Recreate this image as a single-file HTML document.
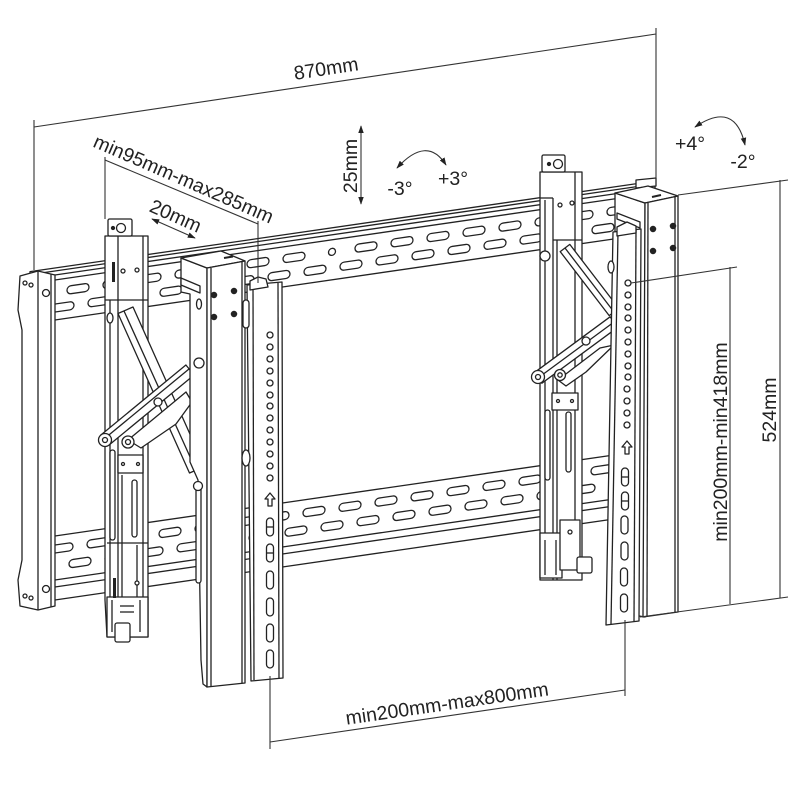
<!DOCTYPE html>
<html><head><meta charset="utf-8"><style>
html,body{margin:0;padding:0;background:#fff;}
svg{display:block;}
text{font-family:"Liberation Sans",sans-serif;fill:#222;}
</style></head><body>
<svg width="800" height="800" viewBox="0 0 800 800" xmlns="http://www.w3.org/2000/svg" xmlns:xlink="http://www.w3.org/1999/xlink">
<defs>
<marker id="ah" viewBox="0 0 10 10" refX="9" refY="5" markerWidth="8" markerHeight="8" orient="auto-start-reverse" markerUnits="userSpaceOnUse"><path d="M0,1.5 L10,5 L0,8.5 z" fill="#222"/></marker>
<circle id="h" r="3" fill="#fff" stroke="#222" stroke-width="1.3"/>
</defs>
<rect width="800" height="800" fill="#fff"/>

<!-- RAILS -->
<g fill="#fff" stroke="#222" stroke-width="1.3" stroke-linejoin="round">
<polygon points="30,271.6 655,181 655,233 30,323.6"/>
<line x1="30" y1="274.6" x2="655" y2="184"/>
<line x1="30" y1="278.6" x2="655" y2="188"/>
<line x1="30" y1="283.6" x2="655" y2="193"/>
<polygon points="30,539.6 620,454.1 620,518.1 30,603.6"/>
<line x1="30" y1="583.6" x2="620" y2="498.1"/>
<line x1="30" y1="590.6" x2="620" y2="505.1"/>
</g>

<!-- SLOTS (skewed frame: y' = y + 0.145x) -->
<g fill="#fff" stroke="#222" stroke-width="1.3" transform="matrix(1,-0.145,0,1,0,0)">
<g transform="translate(0,296)">
<rect x="67" width="22" height="8" rx="4"/><rect x="103" width="22" height="8" rx="4"/><rect x="139" width="22" height="8" rx="4"/><rect x="175" width="22" height="8" rx="4"/><rect x="211" width="22" height="8" rx="4"/><rect x="247" width="22" height="8" rx="4"/><rect x="283" width="22" height="8" rx="4"/><rect x="355" width="22" height="8" rx="4"/><rect x="391" width="22" height="8" rx="4"/><rect x="427" width="22" height="8" rx="4"/><rect x="463" width="22" height="8" rx="4"/><rect x="499" width="22" height="8" rx="4"/><rect x="535" width="22" height="8" rx="4"/><rect x="571" width="22" height="8" rx="4"/><rect x="607" width="22" height="8" rx="4"/>
<circle cx="332" cy="4" r="3.5"/>
</g>
<g transform="translate(0,312)">
<rect x="52" width="22" height="8" rx="4"/><rect x="88" width="22" height="8" rx="4"/><rect x="124" width="22" height="8" rx="4"/><rect x="160" width="22" height="8" rx="4"/><rect x="196" width="22" height="8" rx="4"/><rect x="232" width="22" height="8" rx="4"/><rect x="268" width="22" height="8" rx="4"/><rect x="304" width="22" height="8" rx="4"/><rect x="340" width="22" height="8" rx="4"/><rect x="376" width="22" height="8" rx="4"/><rect x="412" width="22" height="8" rx="4"/><rect x="448" width="22" height="8" rx="4"/><rect x="484" width="22" height="8" rx="4"/><rect x="520" width="22" height="8" rx="4"/><rect x="556" width="22" height="8" rx="4"/><rect x="592" width="22" height="8" rx="4"/>
</g>
<g transform="translate(0,553)">
<rect x="51" width="22" height="8" rx="4"/><rect x="87" width="22" height="8" rx="4"/><rect x="123" width="22" height="8" rx="4"/><rect x="159" width="22" height="8" rx="4"/><rect x="195" width="22" height="8" rx="4"/><rect x="231" width="22" height="8" rx="4"/><rect x="267" width="22" height="8" rx="4"/><rect x="303" width="22" height="8" rx="4"/><rect x="339" width="22" height="8" rx="4"/><rect x="375" width="22" height="8" rx="4"/><rect x="411" width="22" height="8" rx="4"/><rect x="447" width="22" height="8" rx="4"/><rect x="483" width="22" height="8" rx="4"/><rect x="519" width="22" height="8" rx="4"/><rect x="555" width="22" height="8" rx="4"/><rect x="591" width="22" height="8" rx="4"/>
</g>
<g transform="translate(0,570)">
<rect x="69" width="22" height="8" rx="4"/><rect x="105" width="22" height="8" rx="4"/><rect x="141" width="22" height="8" rx="4"/><rect x="177" width="22" height="8" rx="4"/><rect x="213" width="22" height="8" rx="4"/><rect x="249" width="22" height="8" rx="4"/><rect x="285" width="22" height="8" rx="4"/><rect x="321" width="22" height="8" rx="4"/><rect x="357" width="22" height="8" rx="4"/><rect x="393" width="22" height="8" rx="4"/><rect x="429" width="22" height="8" rx="4"/><rect x="465" width="22" height="8" rx="4"/><rect x="501" width="22" height="8" rx="4"/><rect x="537" width="22" height="8" rx="4"/><rect x="573" width="22" height="8" rx="4"/>
</g>
</g>

<!-- LEFT END PLATE -->
<g fill="#fff" stroke="#222" stroke-width="1.3" stroke-linejoin="round">
<polygon points="20,276 38,271 55,275 55,606 38,610 20,606 18,580 22,560 22,330 18,310"/>
<line x1="38" y1="271" x2="38" y2="610"/>
<line x1="51" y1="274" x2="51" y2="607"/>
<circle cx="46" cy="293" r="3.5"/>
<circle cx="46" cy="589" r="3.5"/>
<circle cx="25" cy="283" r="2"/>
<circle cx="31" cy="285" r="2"/>
<circle cx="25" cy="596" r="2"/>
<circle cx="31" cy="598" r="2"/>
</g>

<!-- LEFT WALL BRACKET -->
<g fill="#fff" stroke="#222" stroke-width="1.3" stroke-linejoin="round">
<polygon points="105,236 148,236 148,637 107,637 105,600"/>
<rect x="108" y="219" width="24" height="17" rx="1.5"/>
<circle cx="121" cy="228" r="4.5"/>
<circle cx="113" cy="228" r="1.5" fill="#222"/>
<line x1="110" y1="300" x2="110" y2="597"/>
<line x1="118" y1="236" x2="118" y2="600"/>
<line x1="122" y1="475" x2="122" y2="600"/>
<line x1="143" y1="236" x2="143" y2="600"/>
<line x1="105" y1="300" x2="148" y2="300"/>
<circle cx="123" cy="271" r="2"/>
<circle cx="137" cy="270" r="2"/>
<rect x="112" y="262" width="3" height="20" fill="#222" stroke="none"/>
<ellipse cx="110" cy="318" rx="3" ry="5"/>
<rect x="110" y="450" width="5" height="90" rx="2.5"/>
<rect x="132" y="480" width="5" height="57" rx="2.5"/>
<rect x="118" y="455" width="25" height="18"/>
<circle cx="123" cy="464" r="1.5"/>
<circle cx="138" cy="464" r="1.5"/>
<line x1="107" y1="543" x2="148" y2="543"/>
<line x1="137" y1="545" x2="137" y2="597"/>
<rect x="107" y="597" width="41" height="40"/>
<circle cx="137" cy="583" r="2"/>
<rect x="113" y="578" width="3" height="20" fill="#222" stroke="none"/>
<line x1="112" y1="600" x2="112" y2="632"/>
<line x1="140" y1="600" x2="140" y2="632"/>
<line x1="120" y1="606" x2="134" y2="606"/>
<line x1="120" y1="612" x2="134" y2="612"/>
<rect x="115" y="623" width="15" height="19" rx="2"/>
</g>

<!-- LEFT ARMS -->
<g fill="#fff" stroke="#222" stroke-width="1.3" stroke-linejoin="round">
<polygon points="118,313.5 133,307 204.5,466.5 189.5,473"/>
<line x1="124" y1="311" x2="196" y2="470"/>
<polygon points="128,440 186,392 192,402 176,424 141,448"/>
<polygon points="100.9,435 185.9,365 194.1,375 109.1,445"/>
<line x1="104" y1="439" x2="189" y2="369"/>
<circle cx="105" cy="440" r="6.5"/>
<circle cx="105" cy="440" r="2.5"/>
<circle cx="128" cy="442" r="6"/>
<circle cx="128" cy="442" r="2.5"/>
<circle cx="158" cy="402" r="4"/>
</g>

<!-- LEFT BOX BRACKET -->
<g fill="#fff" stroke="#222" stroke-width="1.3" stroke-linejoin="round">
<polygon points="181,258 207,268 207,687 203,684 201,660 198,480 190,462 190,294 181,292"/>
<polygon points="181,258 221,251 245,261 207,268"/>
<polygon points="207,268 245,261 245,683 207,687"/>
<line x1="211" y1="268" x2="211" y2="686"/>
<line x1="242" y1="262" x2="242" y2="683"/>
<line x1="224" y1="258" x2="233" y2="256.5" stroke-width="2"/>
<polygon points="181,278 200,286 200,293 181,285"/>
<ellipse cx="199" cy="304" rx="2.5" ry="5"/>
<circle cx="199" cy="363" r="5"/>
<rect x="196" y="483" width="5" height="100" rx="2.5"/>
<circle cx="198" cy="486" r="4.5"/>
<circle cx="214" cy="295" r="2.6" fill="#222"/>
<circle cx="234" cy="291" r="2.6" fill="#222"/>
<circle cx="214" cy="317" r="2.6" fill="#222"/>
<circle cx="234" cy="314" r="2.6" fill="#222"/>
</g>

<!-- LEFT STRIP -->
<g fill="#fff" stroke="#222" stroke-width="1.3" stroke-linejoin="round">
<polygon points="247,285 282,282 283,678 251,681"/>
<line x1="253" y1="285" x2="254" y2="680"/>
<line x1="278" y1="283" x2="279" y2="678"/>
<path d="M250,290 L250,281 L258,277 L266,279 L268,287 Z"/>
<rect x="243" y="300" width="6" height="28" rx="3"/>
<ellipse cx="246" cy="458" rx="4" ry="8"/>
<path d="M270,493 L265,499 L268,499 L268,506 L272,506 L272,499 L275,499 Z"/>
<rect x="266.5" y="518" width="7" height="18" rx="3.5"/>
<rect x="266.5" y="544" width="7" height="18" rx="3.5"/>
<rect x="266.5" y="571" width="7" height="18" rx="3.5"/>
<rect x="266.5" y="598" width="7" height="18" rx="3.5"/>
<rect x="266.5" y="624" width="7" height="18" rx="3.5"/>
<rect x="266.5" y="650" width="7" height="18" rx="3.5"/>
<line x1="267" y1="527" x2="273" y2="527"/>
<line x1="267" y1="553" x2="273" y2="553"/>
</g>
<g transform="translate(270,0)">
<use xlink:href="#h" y="335"/><use xlink:href="#h" y="347"/><use xlink:href="#h" y="359"/><use xlink:href="#h" y="371"/><use xlink:href="#h" y="383"/><use xlink:href="#h" y="395"/><use xlink:href="#h" y="406"/><use xlink:href="#h" y="418"/><use xlink:href="#h" y="430"/><use xlink:href="#h" y="442"/><use xlink:href="#h" y="454"/><use xlink:href="#h" y="466"/><use xlink:href="#h" y="478"/>
</g>

<!-- RIGHT WALL BRACKET -->
<g fill="#fff" stroke="#222" stroke-width="1.3" stroke-linejoin="round">
<polygon points="540,172 582,172 582,580 540,580"/>
<rect x="542" y="155" width="23" height="17" rx="1.5"/>
<circle cx="558" cy="164" r="4.5"/>
<circle cx="549" cy="164" r="1.5" fill="#222"/>
<line x1="545" y1="200" x2="545" y2="578"/>
<line x1="553" y1="198" x2="553" y2="580"/>
<line x1="557" y1="240" x2="557" y2="580"/>
<line x1="575" y1="172" x2="575" y2="540"/>
<line x1="540" y1="198" x2="553" y2="198"/>
<line x1="553" y1="240" x2="582" y2="240"/>
<circle cx="560" cy="205" r="2"/>
<circle cx="572" cy="203" r="2"/>
<circle cx="545" cy="256" r="5"/>
<rect x="545" y="410" width="5" height="70" rx="2.5"/>
<rect x="566" y="412" width="5" height="60" rx="2.5"/>
<rect x="552" y="393" width="26" height="17"/>
<circle cx="558" cy="401" r="1.5"/>
<circle cx="572" cy="401" r="1.5"/>
<rect x="540" y="533" width="22" height="45"/>
<line x1="545" y1="540" x2="545" y2="575"/>
<line x1="556" y1="540" x2="556" y2="575"/>
<rect x="560" y="520" width="20" height="50"/>
<circle cx="570" cy="532" r="2"/>
<rect x="577" y="557" width="15" height="16" rx="2"/>
</g>

<!-- RIGHT ARMS -->
<g fill="#fff" stroke="#222" stroke-width="1.3" stroke-linejoin="round">
<polygon points="560.2,251.6 569.8,244.4 618.8,308.4 609.2,315.6"/>
<line x1="565" y1="248" x2="614" y2="312"/>
<polygon points="558,380 600,348 614,345 586,372 566,386"/>
<polygon points="534.1,372.8 610.1,316.8 617.9,327.2 541.9,383.2"/>
<line x1="538" y1="378" x2="614" y2="322"/>
<circle cx="538" cy="377" r="6.5"/>
<circle cx="538" cy="377" r="2.5"/>
<circle cx="560" cy="375" r="5.5"/>
<circle cx="560" cy="375" r="2.2"/>
<circle cx="586" cy="341" r="4"/>
</g>

<!-- RIGHT BOX BRACKET -->
<g fill="#fff" stroke="#222" stroke-width="1.3" stroke-linejoin="round">
<polygon points="636,180 656,178 656,186 636,188"/>
<polygon points="615,193 645,203 645,617 615,612"/>
<polygon points="615,193 648,186 678,196 645,203"/>
<polygon points="645,203 678,196 678,612 643,617"/>
<line x1="648" y1="203" x2="647" y2="616"/>
<line x1="675" y1="197" x2="675" y2="612"/>
<line x1="652" y1="197" x2="661" y2="195" stroke-width="2"/>
<polygon points="617,213 640,222 640,228 617,219"/>
<circle cx="653" cy="229" r="2.6" fill="#222"/>
<circle cx="673" cy="226" r="2.6" fill="#222"/>
<circle cx="653" cy="251" r="2.6" fill="#222"/>
<circle cx="673" cy="248" r="2.6" fill="#222"/>
</g>

<!-- RIGHT STRIP -->
<g fill="#fff" stroke="#222" stroke-width="1.3" stroke-linejoin="round">
<polygon points="613,232 641,229 639,621 606,625"/>
<line x1="618" y1="232" x2="611" y2="624"/>
<line x1="636" y1="230" x2="634" y2="621"/>
<path d="M617,236 L617,227 L627,222 L636,226 L636,233 Z"/>
<ellipse cx="611" cy="267" rx="3" ry="6"/>
<path d="M627,441 L622,447 L625,447 L625,454 L629,454 L629,447 L632,447 Z"/>
<rect x="621.5" y="468" width="7" height="18" rx="3.5"/>
<rect x="621.5" y="492" width="7" height="18" rx="3.5"/>
<rect x="621" y="516" width="7" height="18" rx="3.5"/>
<rect x="621" y="542" width="7" height="18" rx="3.5"/>
<rect x="620.5" y="568" width="7" height="18" rx="3.5"/>
<rect x="620.5" y="594" width="7" height="18" rx="3.5"/>
<line x1="622" y1="477" x2="628" y2="477"/>
<line x1="622" y1="501" x2="628" y2="501"/>
</g>
<g transform="translate(628,0)">
<use xlink:href="#h" y="283"/><use xlink:href="#h" y="295"/><use xlink:href="#h" y="307"/><use xlink:href="#h" y="318"/><use xlink:href="#h" y="330"/><use xlink:href="#h" y="342"/><use xlink:href="#h" y="354"/><use xlink:href="#h" y="366"/><use xlink:href="#h" y="377"/><use xlink:href="#h" x="-1" y="389"/><use xlink:href="#h" x="-1" y="401"/><use xlink:href="#h" x="-1" y="413"/><use xlink:href="#h" x="-1" y="425"/>
</g>

<!-- DIMENSION LINES -->
<g fill="none" stroke="#333" stroke-width="1.1">
<line x1="34" y1="127" x2="656" y2="34"/>
<line x1="34" y1="120" x2="34" y2="270"/>
<line x1="656" y1="28" x2="656" y2="180"/>
<line x1="105" y1="160" x2="258" y2="224"/>
<line x1="105" y1="157" x2="105" y2="219"/>
<line x1="258" y1="221" x2="258" y2="283"/>
<line x1="152" y1="219" x2="195" y2="238" marker-start="url(#ah)" marker-end="url(#ah)"/>
<line x1="361" y1="126" x2="361" y2="204" marker-start="url(#ah)" marker-end="url(#ah)"/>
<path d="M397,168 Q427,135 446,165" marker-start="url(#ah)" marker-end="url(#ah)"/>
<path d="M695,127 Q735,100 745,145" marker-start="url(#ah)" marker-end="url(#ah)"/>
<line x1="780" y1="180" x2="780" y2="598"/>
<line x1="678" y1="195" x2="788" y2="180"/>
<line x1="640" y1="617" x2="788" y2="597"/>
<line x1="730" y1="267" x2="730" y2="604"/>
<line x1="631" y1="283" x2="737" y2="267"/>
<line x1="270" y1="742" x2="625" y2="690"/>
<line x1="270" y1="676" x2="270" y2="749"/>
<line x1="625" y1="620" x2="625" y2="696"/>
</g>

<!-- LABELS -->
<g font-size="19.5" text-anchor="middle">
<text x="327" y="75" transform="rotate(-8.6 327 75)">870mm</text>
<text x="181" y="185" transform="rotate(23.5 181 185)">min95mm-max285mm</text>
<text x="173" y="222" transform="rotate(24 173 222)">20mm</text>
<text x="357" y="166" transform="rotate(-90 357 166)">25mm</text>
<text x="400" y="195">-3°</text>
<text x="453" y="185">+3°</text>
<text x="690" y="150">+4°</text>
<text x="743" y="168">-2°</text>
<text x="776" y="410" transform="rotate(-90 776 410)">524mm</text>
<text x="727" y="442" transform="rotate(-90 727 442)">min200mm-min418mm</text>
<text x="448" y="710" transform="rotate(-8.3 448 710)">min200mm-max800mm</text>
</g>
</svg>
</body></html>
